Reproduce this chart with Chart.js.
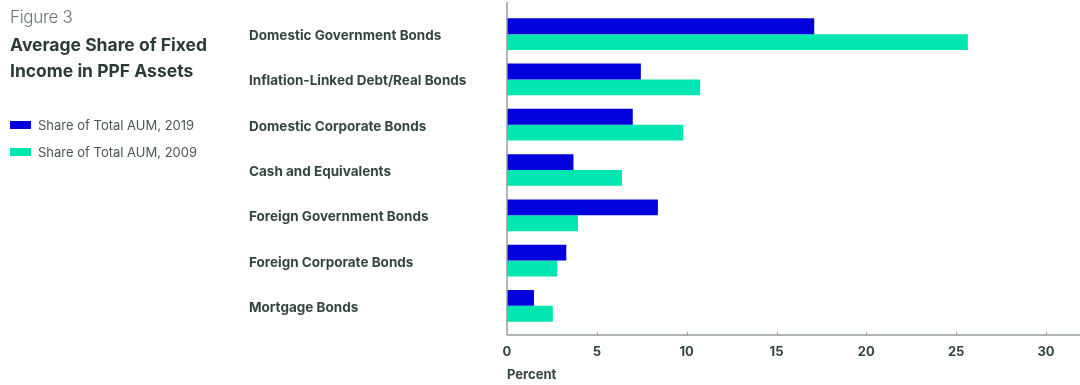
<!DOCTYPE html>
<html>
<head>
<meta charset="utf-8">
<script src="https://cdn.jsdelivr.net/npm/chart.js@4"></script>
<style>
body{margin:0;background:#fff;font-family:Inter,"Noto Sans",sans-serif;}
#wrap{position:relative;width:1080px;height:385px;}
#chart{position:absolute;left:0;top:0;}
.fig{position:absolute;left:10px;top:7px;font-size:17px;font-weight:300;color:#6b7772;letter-spacing:-0.3px;}
.ttl{position:absolute;left:10px;top:32px;font-size:17.5px;font-weight:700;color:#2d3b36;line-height:26px;letter-spacing:0px;}
.leg{position:absolute;left:10px;font-size:13px;color:#4a5853;display:flex;align-items:center;}
.leg span{display:inline-block;width:21px;height:8px;margin-right:7px;}
</style>
</head>
<body>
<div id="wrap">
<canvas id="chart" width="1080" height="385"></canvas>
<div class="fig">Figure 3</div>
<div class="ttl">Average Share of Fixed<br>Income in PPF Assets</div>
<div class="leg" style="top:117px"><span style="background:#0000dc"></span>Share of Total AUM, 2019</div>
<div class="leg" style="top:144px"><span style="background:#00e6b1"></span>Share of Total AUM, 2009</div>
</div>
<script>
let categories=["Domestic Government Bonds","Inflation-Linked Debt/Real Bonds","Domestic Corporate Bonds","Cash and Equivalents","Foreign Government Bonds","Foreign Corporate Bonds","Mortgage Bonds"];
let share2019=[17.1,7.45,7.0,3.7,8.4,3.3,1.5];
let share2009=[25.65,10.75,9.8,6.4,3.95,2.8,2.55];
let xTicks=[0,5,10,15,20,25,30];

// axis lines drawn by hand: they run past the plot area like in the print
let axisLines={
    id:"axisLines",
    afterDraw(c){
        let ctx=c.ctx, x=c.scales.x;
        let x0=x.getPixelForValue(0), yb=335;
        ctx.save();
        ctx.strokeStyle="#949e9a"; ctx.lineWidth=1.5;
        ctx.beginPath(); ctx.moveTo(x0,2); ctx.lineTo(x0,yb); ctx.stroke();
        ctx.beginPath(); ctx.moveTo(x0,yb); ctx.lineTo(1080,yb); ctx.stroke();
        ctx.lineWidth=1;
        xTicks.forEach(t=>{
            if(!t) return;
            let px=Math.round(x.getPixelForValue(t))+0.5;
            ctx.beginPath(); ctx.moveTo(px,yb-3); ctx.lineTo(px,yb); ctx.stroke();
        });
        ctx.restore();
    }
};

new Chart(document.getElementById("chart"),{
    type:"bar",
    data:{labels:categories,datasets:[
        {label:"Share of Total AUM, 2019",data:share2019,backgroundColor:"#0000dc"},
        {label:"Share of Total AUM, 2009",data:share2009,backgroundColor:"#00e6b1"}
    ]},
    options:{
        indexAxis:"y",
        responsive:false,
        animation:false,
        layout:{padding:{left:249,top:11.5,right:34,bottom:0}},
        categoryPercentage:0.7,
        barPercentage:1.0,
        plugins:{legend:{display:false},tooltip:{enabled:false}},
        scales:{
            y:{
                grid:{display:false,drawTicks:false},
                border:{display:false},
                afterFit(s){s.width=258;},
                ticks:{crossAlign:"far",labelOffset:2,color:"#34443f",font:{family:"Inter",size:13.5,weight:"700"}}
            },
            x:{
                min:0,max:30,
                afterFit(s){s.height=56.5;},
                afterBuildTicks(s){s.ticks=xTicks.map(v=>({value:v}));},
                grid:{display:false,drawTicks:false},
                border:{display:false},
                ticks:{padding:16,color:"#34443f",font:{family:"Inter",size:13,weight:"700"}},
                title:{display:true,text:"Percent",align:"start",color:"#34443f",
                    font:{family:"Inter",size:13,weight:"700"},padding:{top:0,bottom:2}}
            }
        }
    },
    plugins:[axisLines]
});
</script>
</body>
</html>
